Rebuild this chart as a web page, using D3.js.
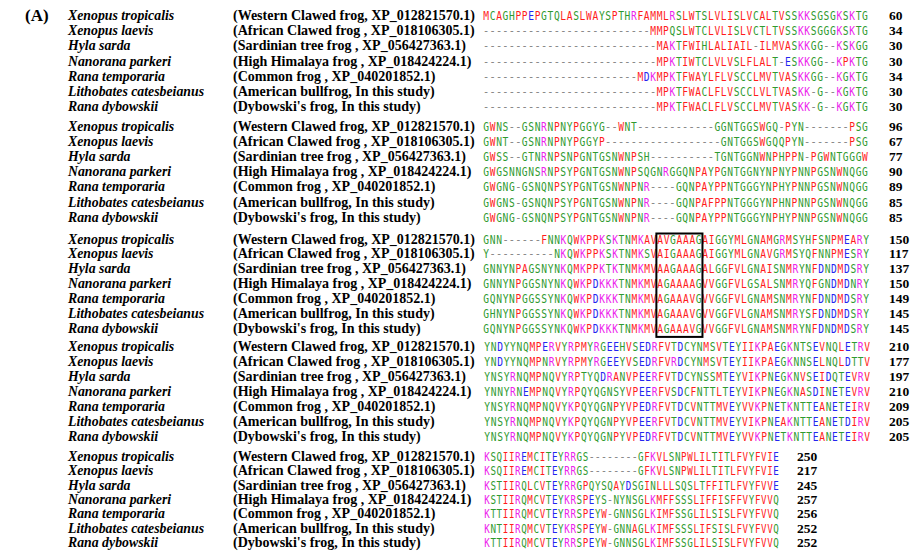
<!DOCTYPE html>
<html>
<head>
<meta charset="utf-8">
<script src="https://cdn.jsdelivr.net/npm/d3@7"></script>
<style>
  html, body { margin: 0; padding: 0; background: #ffffff; }
  svg { display: block; }
</style>
</head>
<body>
<svg id="chart" width="916" height="560"></svg>
<script>
// Panel label
const panelLabel = "(A)";

// Sequences, in display order
const species = [
  "Xenopus tropicalis",
  "Xenopus laevis",
  "Hyla sarda",
  "Nanorana parkeri",
  "Rana temporaria",
  "Lithobates catesbeianus",
  "Rana dybowskii"
];

const commonNames = [
  "(Western Clawed frog, XP_012821570.1)",
  "(African Clawed frog , XP_018106305.1)",
  "(Sardinian tree frog , XP_056427363.1)",
  "(High Himalaya frog , XP_018424224.1)",
  "(Common frog , XP_040201852.1)",
  "(American bullfrog, In this study)",
  "(Dybowski's frog, In this study)"
];

// Aligned residues, one array per alignment block ("-" = gap)
const block1 = [
  "MCAGHPPEPGTQLASLWAYSPTHRFAMMLRSLWTSLVLISLVCALTVSSKKSGSGKSKTG",
  "--------------------------MMPQSLWTCLVLISLVCTLTVSSKKSGGGKSKTG",
  "---------------------------MAKTFWIHLALIAIL-ILMVASKKGG--KSKGG",
  "---------------------------MPKTIWTCLVLVSLFLALT-ESKKGG--KPKTG",
  "------------------------MDKMPKTFWAYLFLVSCCLMVTVASKKGG--KGKTG",
  "---------------------------MPKTFWACLFLVSCCLVLTVASKK-G--KGKTG",
  "---------------------------MPKTFWACLFLVSCCLMVTVASKK-G--KGKTG"
];

const block2 = [
  "GWNS--GSNRNPNYPGGYG--WNT------------GGNTGGSWGQ-PYN-------PSG",
  "GWNT--GSNRNPNYPGGYP------------------GNTGGSWGQQPYN-------PSG",
  "GWSS--GTNRNPSNPGNTGSNWNPSH----------TGNTGGNWNPHPPN-PGWNTGGGW",
  "GWGSNNGNSRNPSYPGNTGSNWNPSQGNRGGQNPAYPGNTGGNYNPNYPNNPGSNWNQGG",
  "GWGNG-GSNQNPSYPGNTGSNWNPNR----GQNPAYPPNTGGGYNPHYPNNPGSNWNQGG",
  "GWGNS-GSNQNPSYPGNTGSNWNPNR----GQNPAFPPNTGGGYNPHNPNNPGSNWNQGG",
  "GWGNG-GSNQNPSYPGNTGSNWNPNR----GQNPAYPPNTGGGYNPHYPNNPGSNWNQGG"
];

const block3 = [
  "GNN------FNNKQWKPPKSKTNMKAVAVGAAAGAIGGYMLGNAMGRMSYHFSNPMEARY",
  "Y----------NKQWKPPKSKTNMKSVAIGAAAGAIGGYMLGNAVGRMSYQFNNPMESRY",
  "GNNYNPAGSNYNKQMKPPKTKTNMKMVAAGAAAGALGGFVLGNAISNMRYNFDNDMDSRY",
  "GNNYNPGGSNYNKQWKPDKKKTNMKMVAGAAAAGVVGGFVLGSALSNMRYQFGNDMDNRY",
  "GQNYNPGGSSYNKQWKPDKKKTNMKMVAGAAAVGVVGGFVLGNAMSNMRYNFDNDMDSRY",
  "GHNYNPGGSSYNKQWKPDKKKTNMKMVAGAAAVGVVGGFVLGNAMSNMRYSFDNDMDSRY",
  "GQNYNPGGSSYNKQWKPDKKKTNMKMVAGAAAVGVVGGFVLGNAMSNMRYNFDNDMDSRY"
];

const block4 = [
  "YNDYYNQMPERVYRPMYRGEEHVSEDRFVTDCYNMSVTEYIIKPAEGKNTSEVNQLETRV",
  "YNDYYNQMPNRVYRPMYRGEEYVSEDRFVRDCYNMSVTEYIIKPAEGKNNSELNQLDTTV",
  "YNSYRNQMPNQVYRPTYQDRANVPEERFVTDCYNSSMTEYVIKPNEGKNVSEIDQTEVRV",
  "YNNYRNEMPNQVYRPQYQGNSYVPEERFVSDCFNTTLTEYVIKPNEGKNASDINETEVRV",
  "YNSYRNQMPNQVYKPQYQGNPYVPEDRFVTDCVNTTMVEYVVKPNETKNTTEANETEIRV",
  "YNSYRNQMPNQVYKPQYQGNPYVPEERFVTDCVNTTMVEYVIKPNEAKNTTEANETDIRV",
  "YNSYRNQMPNQVYKPQYQGNPYVPEDRFVTDCVNTTMVEYVVKPNETKNTTEANETEIRV"
];

const block5 = [
  "KSQIIREMCITEYRRGS--------GFKVLSNPWLILTITLFVYFVIE",
  "KSQIIREMCITEYRRGS--------GFKVLSNPWLILTITLFVYFVIE",
  "KSTIIRQLCVTEYRRGPQYSQAYDSGINLLLSQSLTFFITLFVYFVVE",
  "KSTIIRQMCVTEYKRSPEYS-NYNSGLKMFFSSSLIFFISFFVYFVVQ",
  "KTTIIRQMCVTEYRRSPEYW-GNNSGLKIMFSSGLILSISLFVYFVVQ",
  "KNTIIRQMCVTEYKRSPEYW-GNNAGLKIMFSSSLIFSISLFVYFVVQ",
  "KTTIIRQMCVTEYRRSPEYW-GNNSGLKIMFSSGLILSISLFVYFVVQ"
];

const blocks = [block1, block2, block3, block4, block5];

// Residue number at the end of each row, per block
const blockEnds = [
  [60, 34, 30, 30, 34, 30, 30],
  [96, 67, 77, 90, 89, 85, 85],
  [150, 117, 137, 150, 149, 145, 145],
  [210, 177, 197, 210, 209, 205, 205],
  [250, 217, 245, 257, 256, 252, 252]
];

// Boxed motif: block index and first/last alignment column (1-based)
const boxedBlock = 2;
const boxedColumns = [28, 34];

// Clustal-style residue colouring
const residueClasses = ["AVFPMILW", "DE", "RK", "STYHCNGQ"];
const residueColors  = ["#ff1c1c", "#2424f0", "#ec22ec", "#2f9a2f"];
const gapColor = "#8a8a8a";

// ---- layout of each block (baseline of first row, row step, column grid) ----
const blockLayout = [
  { base: 20,    step: 15.2, x0: 483, pitch: 6.42, numX: 889, k: 1 },
  { base: 131,   step: 15.1, x0: 483, pitch: 6.42, numX: 889, k: 1 },
  { base: 243.5, step: 14.9, x0: 483, pitch: 6.44, numX: 889, k: 1 },
  { base: 351,   step: 15.0, x0: 484, pitch: 6.44, numX: 889, k: 1 },
  { base: 461,   step: 14.3, x0: 484, pitch: 6.15, numX: 797, k: 0.96 }
];

const colorOf = d3.scaleOrdinal()
  .domain(residueClasses.map((c, i) => i))
  .range(residueColors);

function residueColor(ch) {
  if (ch === "-") return gapColor;
  const idx = residueClasses.findIndex(s => s.includes(ch));
  return idx < 0 ? "#000" : colorOf(idx);
}

const serif = "'Liberation Serif', 'Times New Roman', serif";

const svg = d3.select("#chart");
svg.append("rect").attr("width", 916).attr("height", 560).attr("fill", "#fff");

svg.append("text")
  .attr("x", 25).attr("y", 21)
  .attr("font-family", serif)
  .attr("font-weight", "bold")
  .attr("font-size", 17)
  .attr("fill", "#000")
  .text(panelLabel);

blocks.forEach((rows, b) => {
  const L = blockLayout[b];
  const nCols = rows[0].length;
  const x = d3.scaleLinear().domain([0, nCols]).range([L.x0, L.x0 + nCols * L.pitch]);
  const y = d3.scaleLinear().domain([0, rows.length - 1])
    .range([L.base, L.base + (rows.length - 1) * L.step]);

  const g = svg.append("g").attr("class", "block block-" + (b + 1));

  // species names (italic) and common names
  g.selectAll("text.species").data(species).join("text")
    .attr("class", "species")
    .attr("x", 68).attr("y", (d, i) => y(i))
    .attr("font-family", serif)
    .attr("font-style", "italic").attr("font-weight", "bold")
    .attr("font-size", 13.8).attr("fill", "#000")
    .text(d => d);

  g.selectAll("text.common").data(commonNames).join("text")
    .attr("class", "common")
    .attr("x", 233).attr("y", (d, i) => y(i))
    .attr("font-family", serif)
    .attr("font-weight", "bold")
    .attr("font-size", 14).attr("fill", "#000")
    .text(d => d);

  // residues (one glyph per alignment column, condensed to the column pitch)
  const rowG = g.selectAll("g.row").data(rows).join("g")
    .attr("class", "row");

  rowG.selectAll("text.res")
    .data((s, i) => s.split("").map((ch, j) => ({ ch, j, i })))
    .join("text")
    .attr("class", "res")
    .attr("transform", d =>
      `translate(${x(d.j + 0.5)},${y(d.i)}) scale(${d.ch === "-" ? 0.86 : 0.8},1)`)
    .attr("text-anchor", "middle")
    .attr("font-family", "'DejaVu Sans Mono', monospace")
    .attr("font-size", 12 * L.k)
    .attr("fill", d => residueColor(d.ch))
    .text(d => d.ch);

  // residue counts at the row ends
  g.selectAll("text.end").data(blockEnds[b]).join("text")
    .attr("class", "end")
    .attr("x", L.numX).attr("y", (d, i) => y(i))
    .attr("font-family", serif)
    .attr("font-weight", "bold")
    .attr("font-size", 13.5).attr("fill", "#000")
    .text(d => d);

  // motif box
  if (b === boxedBlock) {
    g.append("rect")
      .attr("x", x(boxedColumns[0] - 1) - 0.5)
      .attr("y", y(0) - 10)
      .attr("width", x(boxedColumns[1]) - x(boxedColumns[0] - 1) + 1)
      .attr("height", y(rows.length - 1) - y(0) + 14)
      .attr("fill", "none")
      .attr("stroke", "#000")
      .attr("stroke-width", 2);
  }
});
</script>
</body>
</html>
